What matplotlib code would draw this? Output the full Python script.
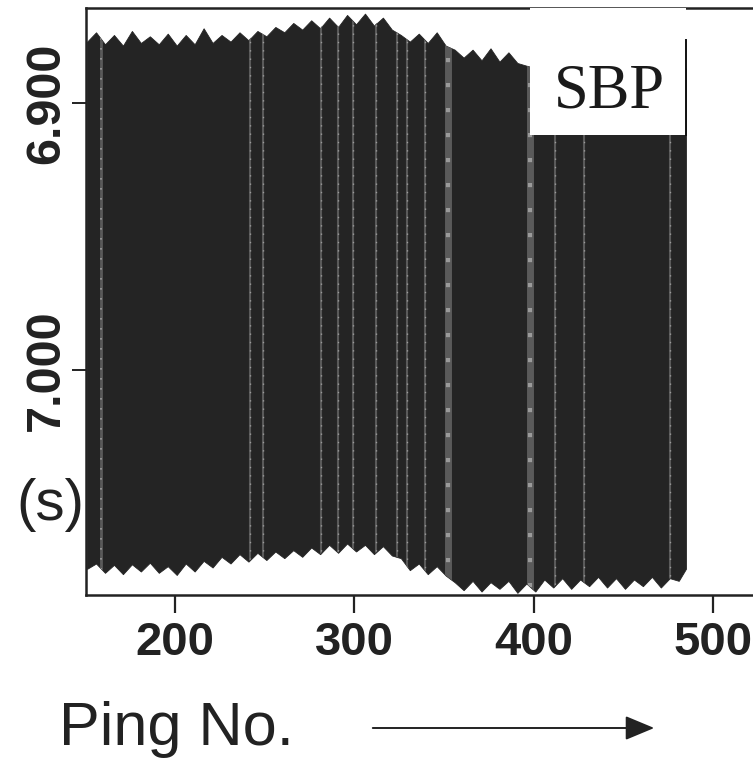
import numpy as np
import matplotlib
matplotlib.use("Agg")
import matplotlib.pyplot as plt
from matplotlib.patches import Rectangle, FancyArrowPatch
from matplotlib import font_manager

# ---------------- data ----------------
ping = list(range(151, 482, 5)) + [485]

# upper edge of the echo (two-way travel time, s)
top_time = [6.8770, 6.8735, 6.8780, 6.8745, 6.8785, 6.8730, 6.8775, 6.8750, 6.8780, 6.8740,
            6.8785, 6.8745, 6.8780, 6.8720, 6.8775, 6.8745, 6.8770, 6.8735, 6.8765, 6.8730,
            6.8750, 6.8715, 6.8735, 6.8700, 6.8725, 6.8690, 6.8720, 6.8680, 6.8715, 6.8670,
            6.8705, 6.8665, 6.8710, 6.8680, 6.8725, 6.8745, 6.8770, 6.8740, 6.8775, 6.8735,
            6.8785, 6.8800, 6.8830, 6.8800, 6.8840, 6.8795, 6.8845, 6.8810, 6.8850, 6.8860,
            6.8870, 6.8870, 6.8870, 6.8870, 6.8870, 6.8870, 6.8870, 6.8870, 6.8870, 6.8870,
            6.8870, 6.8870, 6.8870, 6.8870, 6.8870, 6.8870, 6.8870, 6.8870]

# lower edge of the echo (s)
bottom_time = [7.0745, 7.0725, 7.0760, 7.0730, 7.0765, 7.0728, 7.0755, 7.0722, 7.0760, 7.0735,
               7.0768, 7.0725, 7.0755, 7.0715, 7.0740, 7.0700, 7.0725, 7.0690, 7.0718, 7.0685,
               7.0712, 7.0680, 7.0705, 7.0675, 7.0700, 7.0665, 7.0690, 7.0655, 7.0685, 7.0650,
               7.0680, 7.0655, 7.0690, 7.0660, 7.0695, 7.0705, 7.0750, 7.0725, 7.0765, 7.0735,
               7.0770, 7.0795, 7.0825, 7.0790, 7.0830, 7.0795, 7.0820, 7.0790, 7.0835, 7.0800,
               7.0830, 7.0785, 7.0815, 7.0780, 7.0820, 7.0785, 7.0810, 7.0775, 7.0815, 7.0780,
               7.0820, 7.0785, 7.0810, 7.0775, 7.0815, 7.0780, 7.0790, 7.0745]

# pings with weak returns (light vertical stripes)
stripe_ping = [158.6, 241.6, 249.3, 281.2, 290.7, 299.5, 312.3, 323.8, 329.3, 339.2,
               352.5, 397.8, 412.1, 428.0, 476.2]
stripe_width = [2, 1.5, 1.5, 1.5, 1.5, 1.5, 1.5, 1.5, 1.5, 1.5, 5, 5, 1.5, 1.5, 1.5]

x_ticks = [200, 300, 400, 500]
x_ticklabels = ["200", "300", "400", "500"]
y_ticks = [6.900, 7.000]
y_ticklabels = ["6.900", "7.000"]

# ---------------- fonts ----------------
avail = {f.name for f in font_manager.fontManager.ttflist}
narrow = "Liberation Sans Narrow" if "Liberation Sans Narrow" in avail else "Liberation Sans"
xfs = 38 if narrow == "Liberation Sans Narrow" else 34
sans = "Liberation Sans"
serif = "Liberation Serif"

# ---------------- figure ----------------
W, H = 753, 758
fig = plt.figure(figsize=(W / 100, H / 100), dpi=100)
fig.patch.set_facecolor("white")

x0_px, top_px, bot_px = 86, 8, 595
xmin, xmax = 150.4, 530.0
px_per_ping = 1.793
ax_w = (xmax - xmin) * px_per_ping
ax = fig.add_axes([x0_px / W, (H - bot_px) / H, ax_w / W, (bot_px - top_px) / H])
ax.set_xlim(xmin, xmax)
ax.set_ylim(7.0843, 6.8644)

dark = "#242424"
poly = ax.fill_between(ping, top_time, bottom_time, color=dark, linewidth=0.6,
                       edgecolor=dark, zorder=2)

path = poly.get_paths()[0]
for p, w in zip(stripe_ping, stripe_width):
    l1 = ax.vlines(p, 6.8644, 7.0843, color="#5a5a5a", linewidth=w, zorder=3)
    l1.set_clip_path(path, ax.transData)
    l2 = ax.vlines(p, 6.8644, 7.0843, color="#9a9a9a", linewidth=max(w * 0.6, 1.0),
                   linestyles=(0, (1, 5)), zorder=3)
    l2.set_clip_path(path, ax.transData)

# label box
ax.add_patch(Rectangle((398, 6.8644), 87.2, 6.9120 - 6.8644, facecolor="white",
                       edgecolor="none", zorder=4))
ax.plot([485.2, 485.2], [6.8764, 6.9120], color="#111111", linewidth=1.4, zorder=5)
ax.text(442.5, 6.8960, "SBP", family=serif, fontsize=45, ha="center", va="center",
        color="#1a1a1a", zorder=6)

# axes style
for s in ["left", "bottom", "top"]:
    ax.spines[s].set_linewidth(1.8)
    ax.spines[s].set_color("#222222")
ax.spines["right"].set_visible(False)

ax.set_xticks(x_ticks)
ax.set_xticklabels(x_ticklabels, family=narrow, fontweight="bold", fontsize=xfs, color="#222222")
ax.tick_params(axis="x", direction="out", length=13, width=1.6, pad=6, color="#222222")
ax.set_yticks(y_ticks)
ax.set_yticklabels(y_ticklabels, family=sans, fontweight="bold", fontsize=35, rotation=90,
                   va="center", color="#222222")
ax.tick_params(axis="y", direction="out", length=10, width=1.4, pad=2, color="#222222")

fig.text(50 / W, 1 - 505 / H, "(s)", family=sans, fontsize=42, ha="center", va="center",
         color="#222222")
fig.text(59 / W, 1 - 745 / H, "Ping No.", family=sans, fontsize=44, ha="left",
         va="baseline", color="#222222")
fig.patches.append(FancyArrowPatch(
    (370 / W, 1 - 728 / H), (657 / W, 1 - 728 / H), transform=fig.transFigure,
    arrowstyle="-|>,head_length=12,head_width=5", mutation_scale=1.5,
    linewidth=1.4, color="#222222"))

fig.savefig("out.png", dpi=100, facecolor="white")
